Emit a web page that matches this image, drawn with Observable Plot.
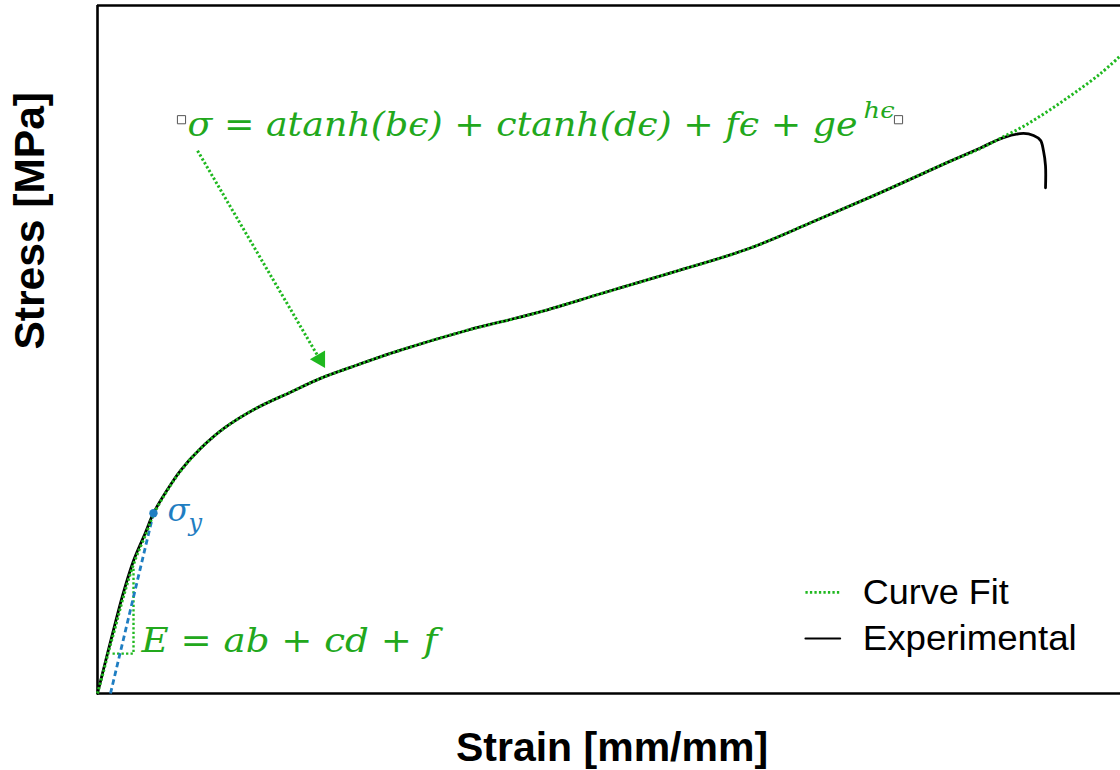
<!DOCTYPE html>
<html>
<head>
<meta charset="utf-8">
<script src="https://cdn.jsdelivr.net/npm/d3@7"></script>
<script src="https://cdn.jsdelivr.net/npm/@observablehq/plot@0.6"></script>
<style>
  html, body { margin: 0; padding: 0; background: #fff; }
  #chart svg { display: block; }
</style>
</head>
<body>
<div id="chart"></div>
<script>
// Experimental curve (strain [-], stress [% of axis range])
const strainExp = [0, 0.006, 0.0156, 0.0244, 0.0352, 0.0469, 0.0547, 0.0665, 0.0811, 0.1007, 0.1251, 0.1544, 0.1887, 0.218, 0.2473, 0.2962, 0.3617, 0.4262, 0.4917, 0.5572, 0.6354, 0.6999, 0.7654, 0.8309, 0.8631, 0.8856, 0.9052, 0.915, 0.9218, 0.9247, 0.9267, 0.9267];
const stressExp = [0, 3.6, 9.2, 14.2, 19.3, 23.4, 26.2, 29.2, 32.4, 35.6, 38.7, 41.4, 43.8, 45.8, 47.4, 49.9, 52.8, 55.2, 58.1, 61.0, 64.6, 68.6, 72.8, 77.2, 79.3, 80.8, 81.4, 81.1, 80.4, 78.9, 76.7, 73.5];

// Curve fit
const strainFit = [0, 0.006, 0.011, 0.0166, 0.0254, 0.0362, 0.0479, 0.0547, 0.0665, 0.0811, 0.1007, 0.1251, 0.1544, 0.1887, 0.218, 0.2473, 0.2962, 0.3617, 0.4262, 0.4917, 0.5572, 0.6354, 0.6999, 0.7654, 0.8309, 0.8583, 0.8827, 0.9071, 0.9316, 0.9560, 0.9804, 1.0];
const stressFit = [0, 3.3, 6.2, 9.2, 14.1, 19.2, 23.4, 26.0, 29.1, 32.3, 35.6, 38.7, 41.4, 43.8, 45.8, 47.4, 49.9, 52.8, 55.2, 58.1, 61.0, 64.6, 68.6, 72.8, 77.2, 78.9, 80.7, 82.6, 84.9, 87.4, 90.1, 92.7];

// Annotations
const yieldStrain = [0.0547];
const yieldStress = [26.2];
const modulusStrain = [0.0127, 0.0547];
const modulusStress = [0, 26.2];
const bracketStrain = [0.0147, 0.0352, 0.0352];
const bracketStress = [5.8, 5.8, 18.3];
const arrowStrain = [0.0978, 0.2160];
const arrowStress = [78.9, 48.9];
const headStrain = [0.2175];
const headStress = [48.6];
const legendLabels = ["Curve Fit", "Experimental"];
const legendStress = [14.7, 8.0];
const legendLineStrain = [0.692, 0.726];
const legendTextStrain = [0.748];
const eqMain = "σ = atanh(bϵ) + ctanh(dϵ) + fϵ + ge";
const eqSup = "hϵ";
const eqModulus = "E = ab + cd + f";
const xLabel = "Strain [mm/mm]";
const yLabel = "Stress [MPa]";

const tab = (xs, ys) => xs.map((x, i) => ({strain: x, stress: ys[i]}));
const exp = tab(strainExp, stressExp);
const fit = tab(strainFit, stressFit);

const GREEN_LINE = "#1fb81f";
const GREEN_TEXT = "#22a81c";
const BLUE = "#1f7ec2";
const DOTS = "2.3,2.2";
const MATH = "DejaVu Serif";

const chart = Plot.plot({
  width: 1120,
  height: 770,
  marginTop: 5,
  marginBottom: 77,
  marginLeft: 97,
  marginRight: 0,
  x: {domain: [0, 1], axis: null},
  y: {domain: [0, 100], axis: null},
  marks: [
    // frame (top, bottom, left)
    Plot.ruleY([0, 100], {stroke: "black", strokeWidth: 2.6}),
    Plot.ruleX([0], {stroke: "black", strokeWidth: 2.6}),
    // slope bracket
    Plot.line(tab(bracketStrain, bracketStress), {x: "strain", y: "stress", stroke: GREEN_LINE, strokeWidth: 2.4, strokeDasharray: DOTS, strokeLinecap: "butt", strokeLinejoin: "miter"}),
    // modulus line
    Plot.line(tab(modulusStrain, modulusStress), {x: "strain", y: "stress", stroke: BLUE, strokeWidth: 2.8, strokeDasharray: "5.5,3.5", strokeLinecap: "butt"}),
    // experimental
    Plot.line(exp, {x: "strain", y: "stress", stroke: "black", strokeWidth: 2.8, curve: "catmull-rom"}),
    // curve fit
    Plot.line(fit, {x: "strain", y: "stress", stroke: GREEN_LINE, strokeWidth: 3, strokeDasharray: DOTS, strokeLinecap: "butt", curve: "catmull-rom"}),
    // yield point
    Plot.dot(tab(yieldStrain, yieldStress), {x: "strain", y: "stress", r: 4.2, fill: BLUE, stroke: "none"}),
    Plot.text(["σ"], {x: 0.0684, y: 25.1, fill: BLUE, fontSize: 32, fontStyle: "italic", fontFamily: MATH, textAnchor: "start", lineAnchor: "bottom"}),
    Plot.text(["y"], {x: 0.0890, y: 23.6, fill: BLUE, fontSize: 24, fontStyle: "italic", fontFamily: MATH, textAnchor: "start", lineAnchor: "bottom"}),
    // arrow
    Plot.line(tab(arrowStrain, arrowStress), {x: "strain", y: "stress", stroke: GREEN_LINE, strokeWidth: 3, strokeDasharray: DOTS, strokeLinecap: "butt"}),
    Plot.dot(tab(headStrain, headStress), {x: "strain", y: "stress", symbol: "triangle", r: 6.5, rotate: 150, fill: GREEN_LINE, stroke: "none"}),
    // equations
    Plot.text([eqMain], {x: 0.0880, y: 80.96, fill: GREEN_TEXT, fontSize: 34, fontStyle: "italic", fontFamily: MATH, textAnchor: "start", lineAnchor: "bottom"}),
    Plot.text([eqSup], {x: 0.7489, y: 83.7, fill: GREEN_TEXT, fontSize: 23, fontStyle: "italic", fontFamily: MATH, textAnchor: "start", lineAnchor: "bottom"}),
    Plot.dot([0.0821, 0.783], {x: d => d, y: 83.4, symbol: "square", r: 4.6, fill: "white", stroke: "#555", strokeWidth: 1}),
    Plot.text([eqModulus], {x: 0.0430, y: 5.96, fill: GREEN_TEXT, fontSize: 34, fontStyle: "italic", fontFamily: MATH, textAnchor: "start", lineAnchor: "bottom"}),
    // legend
    Plot.line(legendLineStrain, {x: d => d, y: legendStress[0], stroke: GREEN_LINE, strokeWidth: 2.6, strokeDasharray: DOTS, strokeLinecap: "butt"}),
    Plot.line(legendLineStrain, {x: d => d, y: legendStress[1], stroke: "black", strokeWidth: 2}),
    Plot.text(legendLabels, {x: legendTextStrain[0], y: (d, i) => legendStress[i], fill: "black", fontSize: 35, fontFamily: "Liberation Sans", textAnchor: "start", lineAnchor: "middle"}),
    // axis labels
    Plot.text([xLabel], {frameAnchor: "bottom", dx: 3, dy: 67, fontSize: 41, fontWeight: "bold", fontFamily: "Liberation Sans", fill: "black", lineAnchor: "bottom"}),
    Plot.text([yLabel], {frameAnchor: "left", dx: -67, rotate: -90, fontSize: 42.5, fontWeight: "bold", fontFamily: "Liberation Sans", fill: "black", lineAnchor: "middle"})
  ]
});

// match rendered text widths to the reference (horizontal texts only)
const widths = {
  [eqMain]: 670, [eqSup]: 31, [eqModulus]: 296,
  "Curve Fit": 146, "Experimental": 214
};
chart.querySelectorAll("text").forEach(t => {
  const w = widths[t.textContent];
  if (w) { t.setAttribute("textLength", w); t.setAttribute("lengthAdjust", "spacingAndGlyphs"); }
});

document.getElementById("chart").appendChild(chart);
</script>
</body>
</html>
